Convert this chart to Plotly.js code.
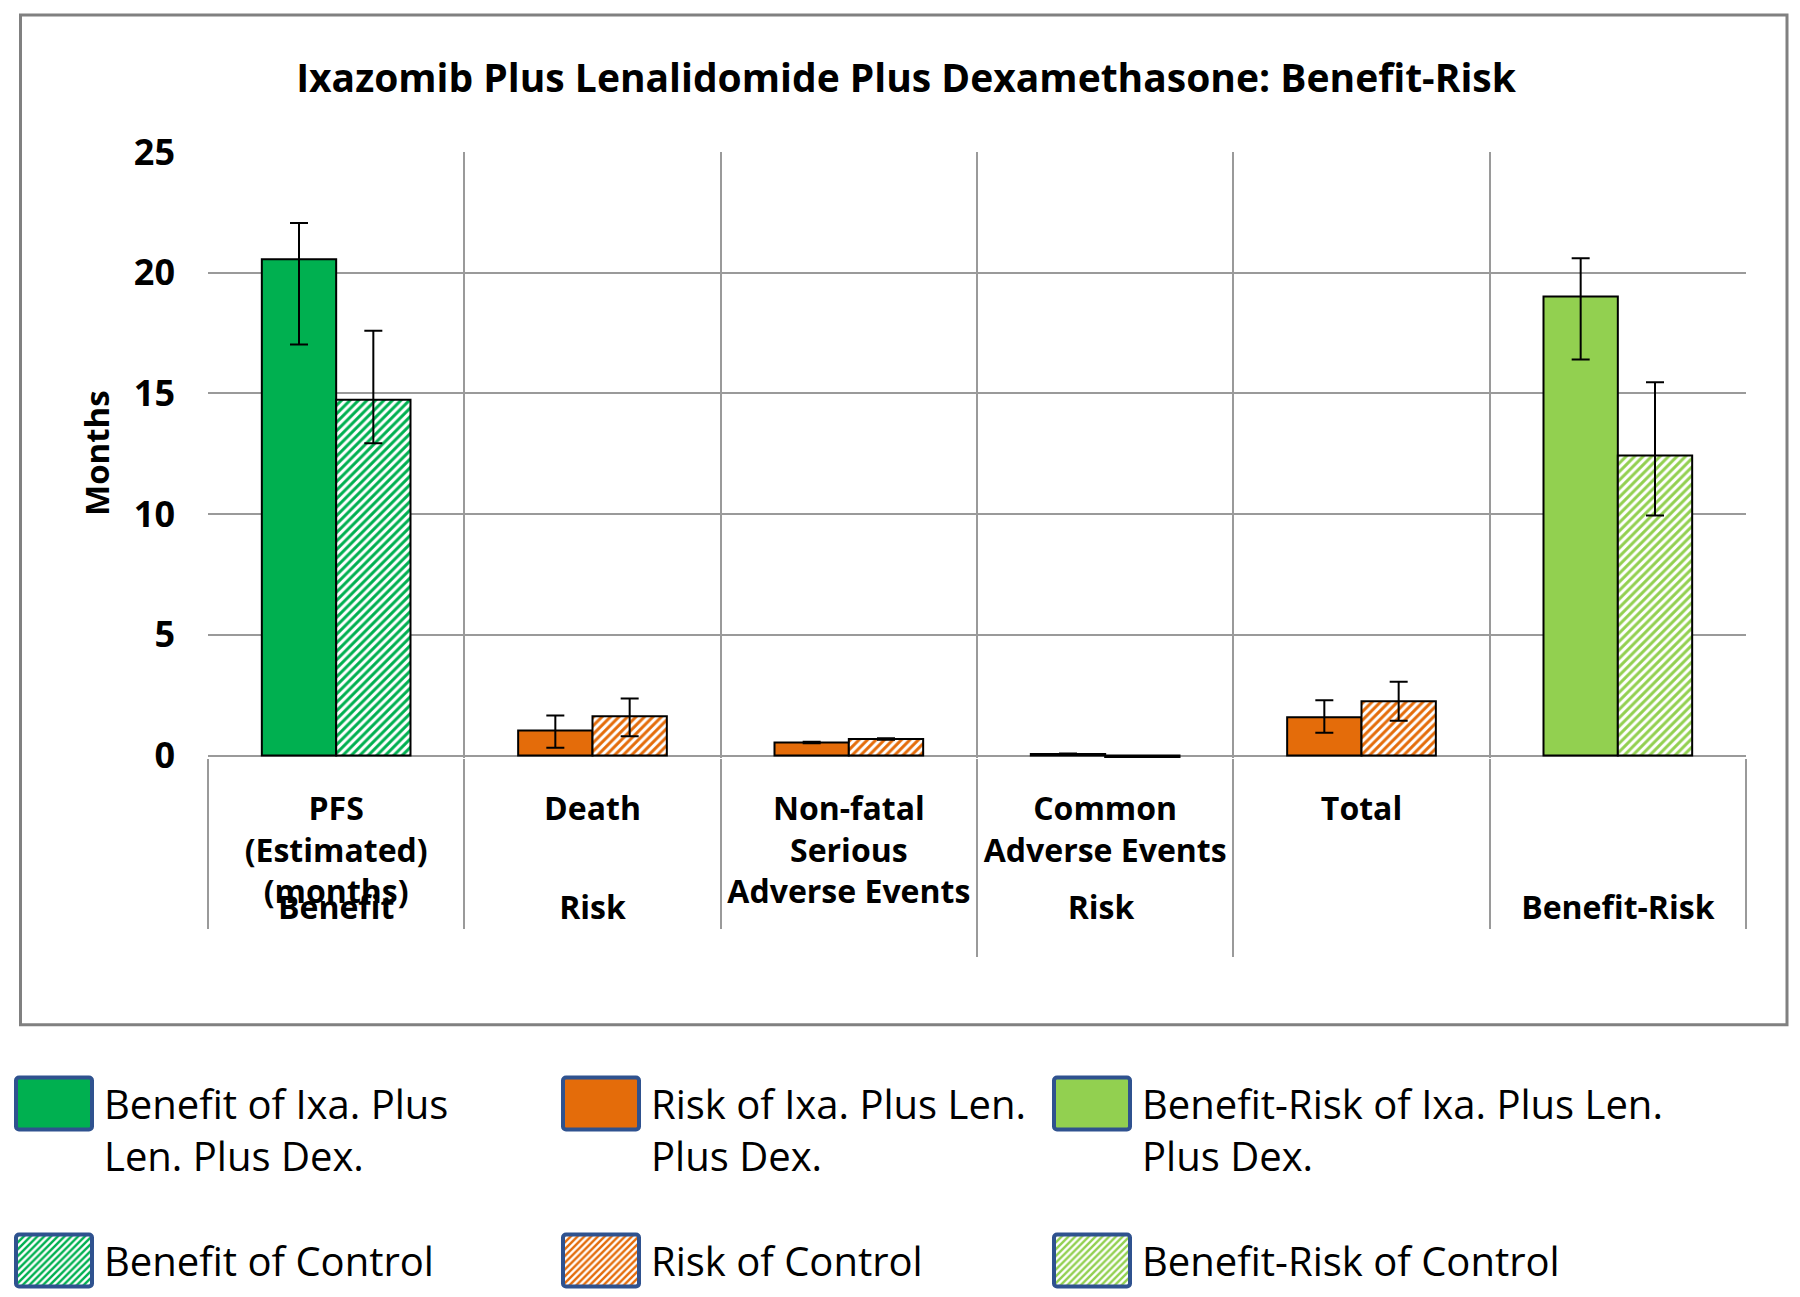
<!DOCTYPE html>
<html>
<head>
<meta charset="utf-8">
<script src="https://cdn.plot.ly/plotly-3.0.1.min.js"></script>
<style>
html, body { margin: 0; padding: 0; background: #ffffff; }
#chart { width: 1800px; height: 1297px; }
</style>
</head>
<body>
<div id="chart"></div>
<script>
// ---------- data ----------
const groupLabels = ['Benefit', 'Risk', 'Risk\u00a0', 'Risk\u00a0', 'Risk\u00a0', 'Benefit-Risk'];
const categoryLabels = [
  'PFS<br>(Estimated)<br>(months)',
  'Death',
  'Non-fatal<br>Serious<br>Adverse Events',
  'Common<br>Adverse Events',
  'Total',
  '\u00a0'
];
const ixaValues    = [20.56, 1.04, 0.54, 0.07, 1.59, 19.02];
const ixaErrPlus   = [1.50, 0.62, 0.03, 0.02, 0.70, 1.58];
const ixaErrMinus  = [3.53, 0.72, 0.03, 0.02, 0.64, 2.61];
const ctrlValues   = [14.74, 1.63, 0.69, -0.07, 2.25, 12.43];
const ctrlErrPlus  = [2.86, 0.73, 0.03, 0.05, 0.81, 3.03];
const ctrlErrMinus = [1.80, 0.83, 0.03, 0.03, 0.81, 2.49];
const ixaNames  = ['Benefit of Ixa. Plus<br>Len. Plus Dex.', 'Risk of Ixa. Plus Len.<br>Plus Dex.', 'Benefit-Risk of Ixa. Plus Len.<br>Plus Dex.'];
const ctrlNames = ['Benefit of Control', 'Risk of Control', 'Benefit-Risk of Control'];
const sectionStart = [0, 1, 5];
const sectionEnd   = [1, 5, 6];
const yTickVals = [0, 5, 10, 15, 20, 25];
const yTickText = ['0', '5', '10', '15', '20', '25'];
const yTitle = 'Months';

// ---------- styling ----------
const sectionColors = ['#00B050', '#E46C0A', '#92D050'];
const GRID = '#9a9a9a';
const FONT = '"Open Sans", "Noto Sans", sans-serif';
const legendIds = ['legend', 'legend2', 'legend3'];

function makeTrace(sec, arm) {
  const s = sectionStart[sec], e = sectionEnd[sec];
  const vals = arm === 0 ? ixaValues : ctrlValues;
  const ep = arm === 0 ? ixaErrPlus : ctrlErrPlus;
  const em = arm === 0 ? ixaErrMinus : ctrlErrMinus;
  const col = sectionColors[sec];
  const marker = { color: col, line: { color: '#000000', width: 2 } };
  if (arm === 1) {
    marker.color = '#ffffff';
    marker.pattern = { shape: '/', fgcolor: col, bgcolor: '#ffffff', size: 6, solidity: 0.5, fillmode: 'replace' };
  }
  return {
    type: 'bar',
    name: arm === 0 ? ixaNames[sec] : ctrlNames[sec],
    x: [groupLabels.slice(s, e), categoryLabels.slice(s, e)],
    y: vals.slice(s, e),
    offsetgroup: arm === 0 ? 'ixa' : 'ctrl',
    legend: legendIds[sec],
    legendgroup: 'g' + sec + '_' + arm,
    marker: marker,
    error_y: { type: 'data', symmetric: false, array: ep.slice(s, e), arrayminus: em.slice(s, e), color: '#000000', thickness: 2, width: 9 },
    hoverinfo: 'skip'
  };
}

const traces = [];
for (let arm = 0; arm < 2; arm++) {
  for (let sec = 0; sec < 3; sec++) traces.push(makeTrace(sec, arm));
}

// plot area in pixels
const W = 1800, H = 1297;
const PL = 208, PR = 1746, PT = 152, PB = 758.1;
const px2x = p => (p - PL) / (PR - PL);
const py2y = p => (PB - p) / (PB - PT);

function legendCfg(leftPx) {
  return {
    xref: 'container', yref: 'container',
    x: leftPx / W, xanchor: 'left',
    y: 1 - 1071 / H, yanchor: 'top',
    orientation: 'v',
    traceorder: 'grouped',
    tracegroupgap: 50,
    valign: 'top',
    itemwidth: 90,
    bgcolor: 'rgba(0,0,0,0)',
    borderwidth: 0,
    font: { family: FONT, size: 40, color: '#000000' }
  };
}

const layout = {
  width: W, height: H,
  margin: { l: PL, r: W - PR, t: PT, b: H - PB, pad: 0, autoexpand: false },
  paper_bgcolor: '#ffffff',
  plot_bgcolor: '#ffffff',
  font: { family: FONT, color: '#000000' },
  showlegend: true,
  title: {
    text: 'Ixazomib Plus Lenalidomide Plus Dexamethasone: Benefit-Risk',
    font: { family: FONT, size: 39, weight: 700, color: '#000000' },
    xref: 'container', x: 906 / W, xanchor: 'center',
    yref: 'container', y: 1 - 78 / H, yanchor: 'middle'
  },
  barmode: 'group',
  bargap: 0.42,
  bargroupgap: 0,
  xaxis: {
    type: 'multicategory',
    tickson: 'boundaries',
    ticks: 'outside', ticklen: 198, tickwidth: 2, tickcolor: GRID,
    showgrid: true, gridcolor: GRID, gridwidth: 2,
    showdividers: true, dividercolor: GRID, dividerwidth: 2,
    showline: false, zeroline: false,
    tickfont: { family: FONT, size: 32, weight: 700, color: '#000000' },
    tickangle: 0,
    ticklabelstandoff: 29,
    automargin: false
  },
  yaxis: {
    range: [-0.1, 25],
    tickmode: 'array', tickvals: yTickVals, ticktext: yTickText,
    showgrid: true, gridcolor: GRID, gridwidth: 2,
    zeroline: true, zerolinecolor: GRID, zerolinewidth: 2,
    showline: false, ticks: '',
    tickfont: { family: FONT, size: 36, weight: 700, color: '#000000' },
    ticklabelstandoff: 32,
    automargin: false
  },
  annotations: [{
    text: yTitle, xref: 'paper', yref: 'paper',
    x: px2x(97), y: py2y(453), xanchor: 'center', yanchor: 'middle',
    textangle: -90, showarrow: false,
    font: { family: FONT, size: 33, weight: 700, color: '#000000' }
  }],
  legend: legendCfg(4),
  legend2: legendCfg(551),
  legend3: legendCfg(1042),
  shapes: [{
    type: 'rect', xref: 'paper', yref: 'paper', layer: 'below',
    x0: px2x(20.5), x1: px2x(1787), y0: py2y(1025), y1: py2y(15),
    line: { color: '#808080', width: 3 }, fillcolor: 'rgba(0,0,0,0)'
  }]
};

Plotly.newPlot('chart', traces, layout, { displayModeBar: false, responsive: false }).then(function (gd) {
  gd.querySelectorAll('g.legendpoints path').forEach(function (p) {
    p.setAttribute('d', 'M-35,-26H35A3,3 0 0 1 38,-23V23A3,3 0 0 1 35,26H-35A3,3 0 0 1 -38,23V-23A3,3 0 0 1 -35,-26Z');
    p.style.stroke = '#2F528F';
    p.style.strokeWidth = '4px';
  });
});
</script>
</body>
</html>
